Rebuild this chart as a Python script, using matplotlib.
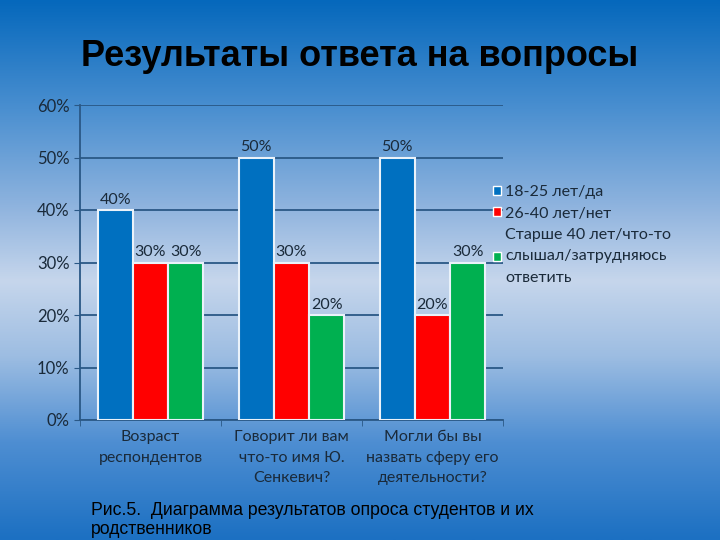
import numpy as np
import matplotlib
matplotlib.use('Agg')
import matplotlib.pyplot as plt
from matplotlib.patches import Patch
from matplotlib.colors import LinearSegmentedColormap

matplotlib.rcParams.update({'font.size': 11, 'font.family': ['Lato', 'DejaVu Sans']})

categories = ['Возраст\nреспондентов', 'Говорит ли вам\nчто-то имя Ю.\nСенкевич?',
              'Могли бы вы\nназвать сферу его\nдеятельности?']
series_names = ['18-25 лет/да', '26-40 лет/нет', 'Старше 40 лет/что-то\nслышал/затрудняюсь\nответить']
young = [40, 50, 50]
middle = [30, 30, 20]
older = [30, 20, 30]
yticks = [0, 10, 20, 30, 40, 50, 60]

colors = ['#0070C0', '#FF0000', '#00B050']

fig = plt.figure(figsize=(7.2, 5.4), dpi=100)

# gradient background
bg = fig.add_axes([0, 0, 1, 1], zorder=-10)
cmap = LinearSegmentedColormap.from_list('bg', [
    (0.0, '#0568BC'), (0.2, '#4A8FD0'), (0.38, '#8EB3DE'),
    (0.52, '#C6D6EC'), (0.66, '#9DBDE2'), (0.82, '#4E8ED2'), (1.0, '#1C70C2')])
bg.imshow(np.linspace(0, 1, 256).reshape(-1, 1), aspect='auto', cmap=cmap,
          extent=[0, 1, 0, 1])
bg.axis('off')

ax = fig.add_axes([80 / 720, 1 - 420 / 540, 423 / 720, 315 / 540])
ax.patch.set_alpha(0)

x = np.arange(len(categories))
w = 0.25
for i, (vals, c) in enumerate(zip([young, middle, older], colors)):
    ax.bar(x + (i - 1) * w, vals, w, color=c, edgecolor='#EAF2FA', linewidth=1.5,
           zorder=3, label=series_names[i])
    for xi, v in zip(x + (i - 1) * w, vals):
        ax.text(xi, v + 0.6, f'{v}%', ha='center', va='bottom', fontsize=11.5, color='#1a2a3a')

ax.set_xlim(-0.5, 2.5)
ax.set_ylim(0, 60)
ax.set_yticks(yticks)
ax.set_yticklabels([f'{t}%' for t in yticks])
ax.yaxis.grid(True, color='#2A5886', linewidth=1.3, zorder=0)
ax.set_axisbelow(True)
ax.set_xticks(x)
ax.set_xticklabels(categories, linespacing=1.62, fontsize=11.5)
ax.set_xticks([-0.5, 0.5, 1.5, 2.5], minor=True)
ax.tick_params(axis='x', which='major', length=0, pad=7, colors='#1a2a3a')
ax.tick_params(axis='x', which='minor', length=4, color='#2A5886')
ax.tick_params(axis='y', length=4, color='#2A5886', colors='#1a2a3a', labelsize=12)
for s in ['top', 'right']:
    ax.spines[s].set_visible(False)
ax.spines['left'].set_color('#2A5886')
ax.spines['bottom'].set_color('#2A5886')
ax.spines['left'].set_linewidth(1.3)
ax.spines['bottom'].set_linewidth(1.3)

handles = [Patch(facecolor=c, edgecolor='white', linewidth=1) for c in colors]
leg = fig.legend(handles, series_names, loc='upper left', bbox_to_anchor=(479 / 720, 1 - 171 / 540),
                 frameon=False, handlelength=0.5, handleheight=0.5, handletextpad=0.25,
                 labelspacing=0.45, fontsize=11.5, labelcolor='#1a2a3a')
for t in leg.get_texts():
    t.set_linespacing(1.7)

fig.text(0.5, 1 - 57 / 540, 'Результаты ответа на вопросы', ha='center', va='center',
         fontsize=26, fontweight='bold', family=['Liberation Sans Narrow', 'Liberation Sans'])
fig.text(91 / 720, 1 - 520 / 540, 'Рис.5.  Диаграмма результатов опроса студентов и их\nродственников',
         ha='left', va='center', fontsize=12.7, linespacing=1.2, family=['Liberation Sans'])

fig.savefig('out.png', dpi=100)
